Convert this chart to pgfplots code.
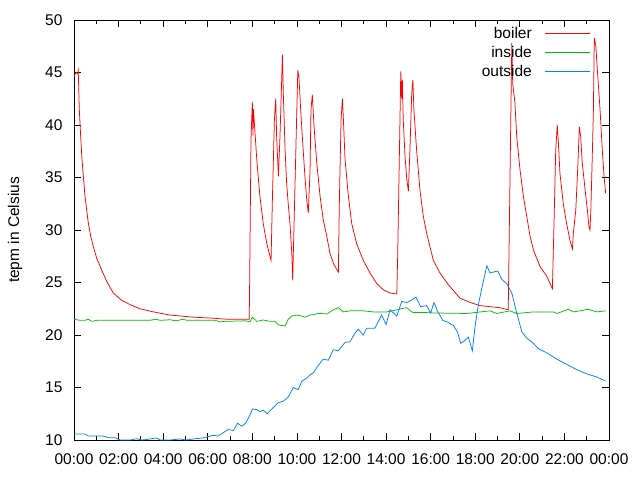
\documentclass[border=0pt]{standalone}
\usepackage{pgfplots}
\pgfplotsset{compat=1.18}
\usepackage{fontspec}
\setmainfont{Liberation Sans}
\definecolor{gpred}{RGB}{255,0,0}
\definecolor{gpgreen}{RGB}{0,192,0}
\definecolor{gpblue}{RGB}{0,128,255}
\begin{document}
\begin{tikzpicture}[font=\fontsize{15.5}{18}\selectfont]
\useasboundingbox (-74pt,-40pt) rectangle (566pt,440pt);
\begin{axis}[
  scale only axis, width=535pt, height=420pt,
  xmin=0, xmax=24, ymin=10, ymax=50,
  xtick={0,2,...,24},
  xticklabels={00:00,02:00,04:00,06:00,08:00,10:00,12:00,14:00,16:00,18:00,20:00,22:00,00:00},
  minor x tick num=1,
  ytick={10,15,...,50},
  tick align=inside,
  major tick length=7pt, minor tick length=4pt,
  tick style={black, line width=0.8pt},
  axis line style={line width=0.8pt},
  /pgf/number format/assume math mode=true,
  ylabel={tepm in Celsius},
  ylabel style={at={(axis description cs:-0.110,0.5)}, anchor=center},
  yticklabel style={xshift=-8pt},
  xticklabel style={yshift=-10pt},
  every axis plot/.append style={line width=0.75pt},
  clip=false,
]
\addplot[gpred] coordinates {
(0.00,44.6)(0.04,44.8)(0.11,45.0)(0.16,44.9)(0.19,45.2)(0.24,41.4)(0.30,38.9)(0.35,37.0)(0.42,35.1)
(0.49,33.3)(0.57,31.9)(0.64,30.7)(0.75,29.4)(0.87,28.4)(1.02,27.3)(1.24,26.2)(1.47,25.1)
(1.76,24.0)(2.14,23.3)(2.51,22.9)(2.96,22.5)(3.56,22.2)(4.31,21.9)(5.35,21.7)(6.25,21.6)
(6.85,21.5)(7.86,21.5)(7.88,25.0)(7.91,31.9)(7.94,38.6)(8.00,42.2)(8.03,39.0)(8.05,41.5)
(8.20,36.7)(8.34,33.2)(8.49,30.6)(8.65,28.7)(8.84,27.1)(8.90,32.9)(8.99,40.5)(9.05,42.5)
(9.09,38.9)(9.17,35.1)(9.24,38.9)(9.29,42.4)(9.35,46.7)(9.39,43.0)(9.47,37.6)(9.54,34.4)
(9.61,32.5)(9.69,30.6)(9.77,27.8)(9.81,25.2)(9.88,31.3)(9.96,38.3)(10.04,45.2)(10.09,44.6)
(10.17,41.4)(10.26,38.3)(10.36,35.1)(10.44,32.9)(10.51,31.6)(10.59,35.7)(10.63,41.4)(10.69,42.9)
(10.77,39.8)(10.89,36.4)(11.04,33.2)(11.18,31.0)(11.34,29.4)(11.48,27.8)(11.66,26.7)(11.86,26.0)
(11.90,32.2)(11.98,40.5)(12.04,42.5)(12.08,40.8)(12.16,36.7)(12.31,33.2)(12.46,30.6)(12.68,28.7)
(12.98,27.1)(13.28,25.9)(13.58,24.9)(13.88,24.3)(14.18,24.0)(14.48,23.9)(14.52,27.5)(14.58,35.1)
(14.66,45.1)(14.70,42.5)(14.73,44.3)(14.77,40.5)(14.85,37.0)(14.93,34.8)(15.00,33.7)(15.07,37.6)
(15.15,43.0)(15.20,44.3)(15.25,41.4)(15.37,37.6)(15.52,33.8)(15.67,31.3)(15.82,29.7)(15.97,28.4)
(16.12,27.1)(16.42,25.9)(16.79,24.8)(17.32,23.5)(17.77,23.1)(18.21,22.8)(18.66,22.7)(19.11,22.6)
(19.48,22.4)(19.56,35.1)(19.64,47.8)(19.68,44.0)(19.78,42.1)(19.86,38.9)(20.01,35.7)(20.16,33.2)
(20.31,31.3)(20.46,29.4)(20.61,28.1)(20.91,26.5)(21.21,25.6)(21.46,24.4)(21.53,30.3)(21.61,37.6)
(21.68,40.0)(21.73,38.3)(21.80,35.4)(21.95,32.5)(22.10,30.6)(22.25,29.0)(22.36,28.2)(22.40,29.7)
(22.51,31.9)(22.60,36.0)(22.67,39.8)(22.73,38.9)(22.80,36.4)(22.93,33.8)(23.03,31.9)(23.10,30.3)
(23.15,30.0)(23.19,32.2)(23.25,37.0)(23.30,41.4)(23.34,48.3)(23.41,47.5)(23.48,45.2)(23.60,41.4)
(23.70,37.6)(23.78,35.1)(23.85,33.5)
};
\addplot[gpgreen] coordinates {
(0.00,21.5)(0.27,21.4)(0.49,21.4)(0.63,21.5)(0.81,21.3)(1.03,21.4)(3.41,21.4)(3.68,21.5)
(3.86,21.4)(4.31,21.45)(4.58,21.35)(4.89,21.5)(5.07,21.4)(6.33,21.4)(6.55,21.25)(6.77,21.3)
(7.67,21.35)(7.90,21.27)(8.00,21.7)(8.20,21.3)(8.49,21.43)(8.79,21.3)(9.02,21.3)(9.17,20.95)
(9.47,20.86)(9.61,21.5)(9.77,21.8)(9.99,21.9)(10.22,21.8)(10.36,21.7)(10.59,21.9)(10.81,21.97)
(10.96,22.06)(11.34,22.0)(11.63,22.4)(11.86,22.6)(12.08,22.2)(12.38,22.3)(12.98,22.3)(13.43,22.2)
(14.03,22.2)(14.48,22.4)(14.77,22.55)(14.93,22.6)(15.15,22.2)(15.22,22.15)(15.67,22.15)(16.12,22.1)
(17.62,22.05)(18.66,22.3)(18.96,22.05)(19.56,22.3)(19.86,22.05)(20.61,22.2)(21.50,22.2)(21.66,22.05)
(22.18,22.45)(22.40,22.2)(22.70,22.3)(23.07,22.45)(23.45,22.2)(23.85,22.3)
};
\addplot[gpblue] coordinates {
(0.00,10.57)(0.04,10.57)(0.49,10.57)(0.64,10.38)(1.31,10.38)(1.54,10.22)(1.84,10.22)(2.06,10.0)
(2.51,10.0)(2.81,10.12)(3.04,10.0)(3.26,10.05)(3.71,10.2)(3.86,10.0)(4.31,10.0)(4.76,10.1)
(5.02,10.0)(5.35,10.1)(5.80,10.2)(6.25,10.45)(6.46,10.38)(6.70,10.7)(6.92,11.0)(7.15,10.9)
(7.34,11.6)(7.52,11.3)(7.70,11.6)(7.90,12.4)(8.00,12.95)(8.20,12.9)(8.34,12.7)(8.49,12.85)
(8.67,12.5)(8.94,13.1)(9.17,13.55)(9.39,13.7)(9.61,14.1)(9.84,15.0)(10.06,14.8)(10.22,15.6)
(10.44,15.9)(10.59,16.2)(10.74,16.4)(10.96,17.1)(11.18,17.7)(11.41,17.6)(11.63,18.6)(11.86,18.5)
(12.16,19.3)(12.38,19.35)(12.61,20.2)(12.75,20.55)(12.98,20.0)(13.13,20.65)(13.50,20.65)(13.80,21.9)
(14.00,21.0)(14.18,22.4)(14.48,21.8)(14.70,23.2)(14.93,23.1)(15.12,23.3)(15.34,23.6)(15.55,22.7)
(15.82,22.8)(16.00,22.1)(16.15,23.1)(16.30,22.3)(16.54,21.4)(16.79,21.2)(17.02,20.9)(17.20,20.3)
(17.35,19.2)(17.54,19.5)(17.69,19.8)(17.87,18.5)(17.99,20.8)(18.14,22.9)(18.34,24.9)(18.52,26.6)
(18.66,25.9)(19.01,26.1)(19.19,25.3)(19.41,24.9)(19.64,24.0)(19.86,22.1)(20.09,20.3)(20.31,19.7)
(20.61,19.2)(20.83,18.7)(21.21,18.3)(21.66,17.7)(22.10,17.2)(22.55,16.7)(23.00,16.3)(23.45,16.0)
(23.75,15.7)(23.85,15.7)
};
% legend (key)
\node[anchor=east, inner sep=0pt] at (axis description cs:0.856,0.9683) {boiler};
\node[anchor=east, inner sep=0pt] at (axis description cs:0.856,0.9231) {inside};
\node[anchor=east, inner sep=0pt] at (axis description cs:0.856,0.8779) {outside};
\draw[gpred, line width=0.75pt] (axis description cs:0.880,0.9683) -- (axis description cs:0.9645,0.9683);
\draw[gpgreen, line width=0.75pt] (axis description cs:0.880,0.9231) -- (axis description cs:0.9645,0.9231);
\draw[gpblue, line width=0.75pt] (axis description cs:0.880,0.8779) -- (axis description cs:0.9645,0.8779);
\end{axis}
\end{tikzpicture}
\end{document}
